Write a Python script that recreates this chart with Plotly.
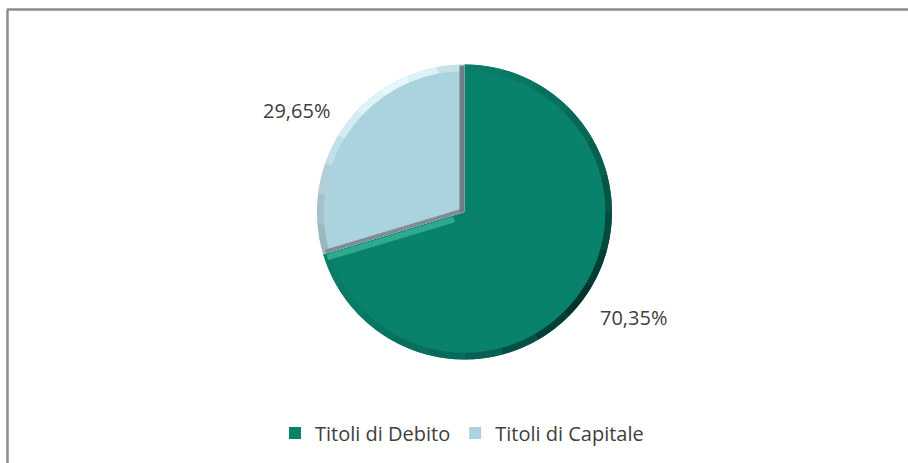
import math
import plotly.graph_objects as go

categories = ["Titoli di Debito", "Titoli di Capitale"]
values = [70.35, 29.65]
value_labels = ["70,35%", "29,65%"]
colors = ["#08826B", "#ABD3DE"]

# Rim shading of the bevelled pie, clockwise from 12 o'clock (degrees, colour)
bevel_spans = [15, 15, 15, 15, 15, 15, 15, 15, 15, 15, 15, 15, 15, 15, 15, 15, 13.26,
               12, 12, 12, 12, 12, 12, 12, 12, 10.74]
bevel_colors = ["#0A7C67", "#0A7764", "#09705E", "#086857", "#07604F", "#065646", "#054A3D", "#043D33",
                "#03332B", "#043F35", "#055045", "#066053", "#076A5A", "#086F5E", "#087562", "#087A66",
                "#087E69",
                "#9DB6BF", "#A7C1CA", "#B3CED7", "#C2DEE6", "#D2ECF2", "#DFF4F8", "#E6F8FB", "#DDF2F6",
                "#C8E2E9"]

W, H = 908, 463
cx, cy, r = 464.5, 212, 147.5
FONT = "'Open Sans', sans-serif"
TEXT = "#404040"


def dom(radius):
    return dict(x=[(cx - radius) / W, (cx + radius) / W],
                y=[1 - (cy + radius) / H, 1 - (cy - radius) / H])


def edge(angle_deg, offset, r0, r1, color, width):
    """Line parallel to a slice boundary; angle clockwise from 12 o'clock, offset to its clockwise side."""
    a = math.radians(angle_deg)
    dx, dy = math.sin(a), -math.cos(a)
    nx, ny = math.cos(a), math.sin(a)
    fig.add_shape(type="line", xref="paper", yref="paper",
                  x0=(cx + dx * r0 + nx * offset) / W, y0=1 - (cy + dy * r0 + ny * offset) / H,
                  x1=(cx + dx * r1 + nx * offset) / W, y1=1 - (cy + dy * r1 + ny * offset) / H,
                  line=dict(color=color, width=width))


fig = go.Figure()
fig.add_trace(go.Pie(
    labels=categories, values=values, sort=False, direction="clockwise", rotation=0,
    marker=dict(colors=colors, line=dict(width=0)),
    textinfo="none", hoverinfo="label+percent", domain=dom(r), showlegend=True,
))
fig.add_trace(go.Pie(
    values=bevel_spans, sort=False, direction="clockwise", rotation=0,
    marker=dict(colors=bevel_colors, line=dict(width=0)), hole=0.955,
    textinfo="none", hoverinfo="skip", domain=dom(r), showlegend=False,
))

boundary = values[0] / sum(values) * 360
edge(boundary, -4, 12, r - 3, "#2FA98F", 6)
edge(boundary, 2, 0, r - 3, "#7F8E96", 4)
edge(0, -2.5, 0, r - 1, "#6F7C84", 5)

fig.add_annotation(x=633 / W, y=1 - 317 / H, text=value_labels[0], showarrow=False,
                   xanchor="center", yanchor="middle", xref="paper", yref="paper",
                   font=dict(family=FONT, size=20, color=TEXT))
fig.add_annotation(x=296.5 / W, y=1 - 110 / H, text=value_labels[1], showarrow=False,
                   xanchor="center", yanchor="middle", xref="paper", yref="paper",
                   font=dict(family=FONT, size=20, color=TEXT))

fig.add_shape(type="line", xref="paper", yref="paper", x0=7 / W, x1=1, y0=1 - 9.5 / H, y1=1 - 9.5 / H,
              line=dict(color="#8C8C8C", width=2.5))
fig.add_shape(type="line", xref="paper", yref="paper", x0=7.5 / W, x1=7.5 / W, y0=0, y1=1 - 9.5 / H,
              line=dict(color="#8C8C8C", width=2.5))

fig.update_layout(
    width=W, height=H, margin=dict(l=0, r=0, t=0, b=0),
    paper_bgcolor="white", plot_bgcolor="white",
    font=dict(family=FONT, size=20, color=TEXT),
    legend=dict(orientation="h", x=462 / W, xanchor="center", y=1 - 433 / H, yanchor="middle",
                font=dict(family=FONT, size=20, color=TEXT), itemwidth=30),
)
fig.write_html("out.html", config={"displayModeBar": False}, post_script="document.body.style.margin='0';")
